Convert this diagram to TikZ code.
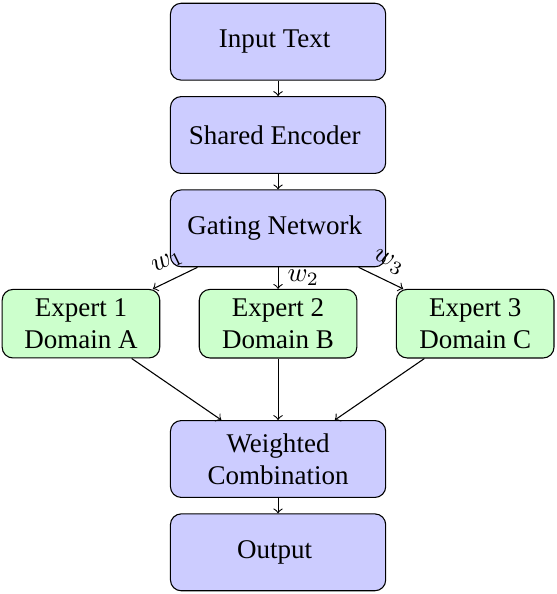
\documentclass[tikz,border=0pt]{standalone}
\usepackage[no-math]{fontspec}
\setmainfont{Liberation Serif}
\usepackage{xcolor}
\usepackage{tikz}
\usetikzlibrary{
    positioning,
    calc
}

\begin{document}
\begin{tikzpicture}[
    node distance=0.2cm,
    block/.style={
        rectangle,
        rounded corners,
        draw,
        fill=blue!20,
        align=center,
        minimum width=2.8cm,
        minimum height=1cm
    },
    expert/.style={
        rectangle,
        rounded corners,
        draw,
        fill=green!20,
        align=center,
        minimum width=2.05cm,
        minimum height=0.8cm
    },
    arrow/.style={
        ->
    }
]

% ============================================================
% INPUT AND ENCODER
% ============================================================

\node[block] (input)
{
Input Text
};

\node[block, below=of input] (encoder)
{
Shared Encoder
};

% ============================================================
% GATING
% ============================================================

\node[block, below=of encoder] (gating)
{
Gating Network
};

% ============================================================
% EXPERTS
% ============================================================

\node[expert, below=0.28cm of gating] (expert2)
{
Expert 2\\
Domain B
};

\node[expert, left=0.5cm of expert2] (expert1)
{
Expert 1\\
Domain A
};

\node[expert, right=0.5cm of expert2] (expert3)
{
Expert 3\\
Domain C
};

% ============================================================
% COMBINATION AND OUTPUT
% ============================================================

\node[block, below=0.8cm of expert2] (combine)
{
Weighted\\
Combination
};

\node[block, below=of combine] (output)
{
Output
};

% ============================================================
% CONNECTIONS
% ============================================================

\draw[arrow] (input) -- (encoder);
\draw[arrow] (encoder) -- (gating);

\draw[arrow] (gating) -- node[above, sloped] {$w_1$} (expert1);
\draw[arrow] (gating) -- node[right] {$w_2$} (expert2);
\draw[arrow] (gating) -- node[above, sloped] {$w_3$} (expert3);

\draw[arrow] (expert1) -- (combine);
\draw[arrow] (expert2) -- (combine);
\draw[arrow] (expert3) -- (combine);

\draw[arrow] (combine) -- (output);

% margins
\path ($(expert1.west |- input.north)+(-0.6pt,1pt)$)
    rectangle ($(expert3.east |- output.south)+(0.6pt,-1pt)$);

\end{tikzpicture}
\end{document}
